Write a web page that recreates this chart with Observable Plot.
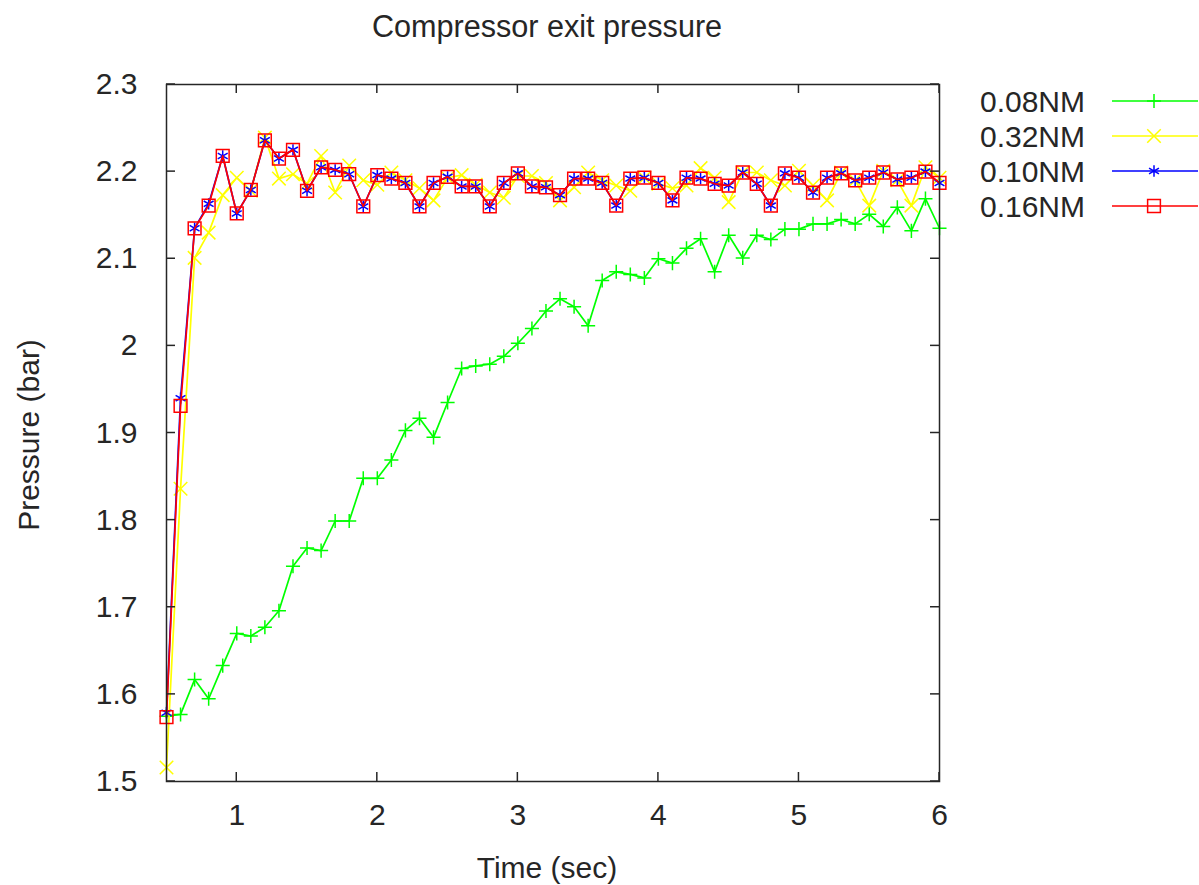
<!DOCTYPE html>
<html>
<head>
<meta charset="utf-8">
<script src="https://cdn.jsdelivr.net/npm/d3@7"></script>
<script src="https://cdn.jsdelivr.net/npm/@observablehq/plot@0.6"></script>
<style>
  body { margin: 0; background: #fff; }
  #chart svg { display: block; }
</style>
</head>
<body>
<div id="chart"></div>
<script>
// ---- data ----
const time = [0.5,0.6,0.7,0.8,0.9,1.0,1.1,1.2,1.3,1.4,1.5,1.6,1.7,1.8,1.9,2.0,2.1,2.2,2.3,2.4,2.5,2.6,2.7,2.8,2.9,3.0,3.1,3.2,3.3,3.4,3.5,3.6,3.7,3.8,3.9,4.0,4.1,4.2,4.3,4.4,4.5,4.6,4.7,4.8,4.9,5.0,5.1,5.2,5.3,5.4,5.5,5.6,5.7,5.8,5.9,6.0];

const p008 = [1.575,1.577,1.617,1.595,1.633,1.670,1.667,1.677,1.696,1.747,1.768,1.765,1.799,1.799,1.848,1.848,1.869,1.903,1.917,1.895,1.935,1.974,1.977,1.979,1.988,2.003,2.020,2.040,2.054,2.045,2.023,2.075,2.085,2.082,2.078,2.100,2.095,2.112,2.123,2.085,2.127,2.101,2.127,2.122,2.134,2.134,2.140,2.140,2.145,2.140,2.151,2.137,2.159,2.132,2.169,2.135];

const p032 = [1.516,1.836,2.101,2.130,2.173,2.193,2.178,2.239,2.192,2.197,2.186,2.218,2.176,2.207,2.190,2.185,2.199,2.190,2.181,2.167,2.193,2.196,2.185,2.176,2.170,2.195,2.195,2.187,2.167,2.182,2.199,2.190,2.184,2.178,2.193,2.186,2.181,2.184,2.204,2.193,2.165,2.199,2.199,2.190,2.184,2.201,2.184,2.167,2.199,2.190,2.161,2.201,2.190,2.161,2.205,2.193];

const p010 = [1.579,1.940,2.135,2.163,2.218,2.152,2.179,2.236,2.215,2.225,2.178,2.205,2.202,2.197,2.160,2.196,2.192,2.187,2.160,2.187,2.194,2.183,2.183,2.160,2.187,2.198,2.183,2.182,2.173,2.192,2.192,2.187,2.161,2.192,2.193,2.187,2.167,2.193,2.192,2.186,2.184,2.199,2.186,2.161,2.198,2.193,2.176,2.193,2.198,2.190,2.193,2.199,2.191,2.193,2.200,2.187];

const p016 = [1.574,1.931,2.135,2.161,2.218,2.152,2.179,2.236,2.215,2.225,2.178,2.205,2.202,2.197,2.160,2.196,2.192,2.187,2.160,2.187,2.194,2.183,2.183,2.160,2.187,2.198,2.183,2.182,2.173,2.192,2.192,2.187,2.161,2.192,2.193,2.187,2.167,2.193,2.192,2.186,2.184,2.199,2.186,2.161,2.198,2.193,2.176,2.193,2.198,2.190,2.193,2.199,2.191,2.193,2.200,2.187];

const seriesNames = ["0.08NM", "0.32NM", "0.10NM", "0.16NM"];
const seriesValues = [p008, p032, p010, p016];
const seriesColors = ["#00ff00", "#ffff00", "#0000ff", "#ff0000"];
const seriesSymbols = ["plus", "times", "asterisk", "square"];
const seriesR = [4.6, 6.2, 5.4, 7.2];

const xTicks = [1, 2, 3, 4, 5, 6];
const xTickLabels = ["1", "2", "3", "4", "5", "6"];
const yTicks = [1.5, 1.6, 1.7, 1.8, 1.9, 2.0, 2.1, 2.2, 2.3];
const yTickLabels = ["1.5", "1.6", "1.7", "1.8", "1.9", "2", "2.1", "2.2", "2.3"];

const titleText = "Compressor exit pressure";
const xLabelText = "Time (sec)";
const yLabelText = "Pressure (bar)";

// ---- build ----
const FONT = "'Liberation Sans', Arial, sans-serif";
const FS = 30;
const LW = 1.7;
const INK = "#262626";

const tables = seriesValues.map((vals, s) =>
  time.map((t, i) => ({t, v: vals[i], series: seriesNames[s]}))
);

const seriesMarks = tables.flatMap((rows, s) => [
  Plot.line(rows, {x: "t", y: "v", stroke: seriesColors[s], strokeWidth: LW}),
  Plot.dot(rows, {x: "t", y: "v", symbol: () => seriesSymbols[s], r: seriesR[s],
    stroke: seriesColors[s], fill: "none", strokeWidth: 1.5})
]);

const chart = Plot.plot({
  width: 1199,
  height: 885,
  marginLeft: 166,
  marginRight: 260,
  marginTop: 84,
  marginBottom: 104,
  style: {fontFamily: FONT, background: "#fff", color: INK},
  x: {domain: [0.5, 6]},
  y: {domain: [1.5, 2.3]},
  marks: [
    Plot.axisX({ticks: xTicks, tickSize: 0, tickPadding: 22, fontSize: FS, label: null,
      tickFormat: d => xTickLabels[xTicks.indexOf(d)]}),
    Plot.axisY({ticks: yTicks, tickSize: 0, tickPadding: 29, fontSize: FS, label: null,
      tickFormat: d => yTickLabels[yTicks.findIndex(v => Math.abs(v - d) < 1e-9)]}),
    ...seriesMarks,
    Plot.frame({stroke: INK, strokeWidth: 1.5})
  ]
});

document.getElementById("chart").appendChild(chart);

// inward ticks on all four sides, positioned through Plot's scales
const sx = chart.scale("x"), sy = chart.scale("y");
const svg = d3.select(chart);
const x0 = sx.apply(0.5), x1 = sx.apply(6), y0 = sy.apply(1.5), y1 = sy.apply(2.3);
const TL = 9;
const tg = svg.append("g").attr("stroke", INK).attr("stroke-width", 1.5);
xTicks.forEach(v => {
  const px = sx.apply(v);
  tg.append("line").attr("x1", px).attr("x2", px).attr("y1", y0).attr("y2", y0 - TL);
  tg.append("line").attr("x1", px).attr("x2", px).attr("y1", y1).attr("y2", y1 + TL);
});
yTicks.forEach(v => {
  const py = sy.apply(v);
  tg.append("line").attr("y1", py).attr("y2", py).attr("x1", x0).attr("x2", x0 + TL);
  tg.append("line").attr("y1", py).attr("y2", py).attr("x1", x1).attr("x2", x1 - TL);
});

// title and axis labels
const tx = svg.append("g").attr("font-family", FONT).attr("font-size", FS).attr("fill", INK);
tx.append("text").attr("x", 547).attr("y", 37).attr("text-anchor", "middle").attr("font-size", 30.6).text(titleText);
tx.append("text").attr("x", 547).attr("y", 878).attr("text-anchor", "middle").text(xLabelText);
tx.append("text").attr("transform", "translate(39,435) rotate(-90)").attr("text-anchor", "middle").text(yLabelText);

// legend
const lg = svg.append("g").attr("font-family", FONT).attr("font-size", FS).attr("fill", INK);
const symMap = {plus: d3.symbolPlus, times: d3.symbolTimes, asterisk: d3.symbolAsterisk, square: d3.symbolSquare};
seriesNames.forEach((name, i) => {
  const ly = 101 + 35 * i;
  lg.append("text").attr("x", 1085).attr("y", ly).attr("dy", "0.35em").attr("text-anchor", "end").text(name);
  lg.append("line").attr("x1", 1112).attr("x2", 1198).attr("y1", ly).attr("y2", ly)
    .attr("stroke", seriesColors[i]).attr("stroke-width", LW);
  lg.append("path").attr("transform", `translate(1154,${ly})`)
    .attr("d", d3.symbol(symMap[seriesSymbols[i]], Math.PI * seriesR[i] * seriesR[i])())
    .attr("fill", "none").attr("stroke", seriesColors[i]).attr("stroke-width", 1.5);
});
</script>
</body>
</html>
